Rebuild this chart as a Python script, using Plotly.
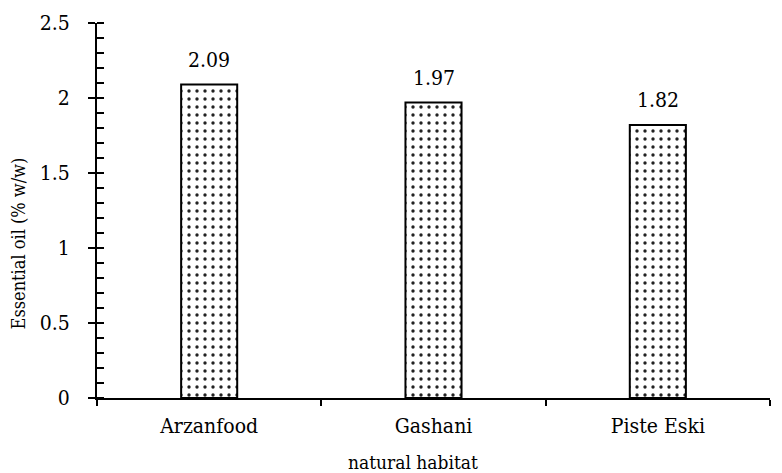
import plotly.graph_objects as go

categories = ["Arzanfood", "Gashani", "Piste Eski"]
values = [2.09, 1.97, 1.82]
labels = ["2.09", "1.97", "1.82"]
y_ticks = [0, 0.5, 1, 1.5, 2, 2.5]
y_ticklabels = ["0", "0.5", "1", "1.5", "2", "2.5"]
x_title = "natural habitat"
y_title = "Essential oil (% w/w)"

FONT = "'DejaVu Serif Condensed', 'DejaVu Serif', serif"

fig = go.Figure()
fig.add_trace(go.Bar(
    x=categories, y=values,
    marker=dict(color="white", line=dict(color="black", width=2),
                pattern=dict(shape=".", fgcolor="#222222", bgcolor="white",
                             size=8, solidity=0.14)),
    yaxis="y",
))
# invisible trace for inside major ticks
fig.add_trace(go.Scatter(x=categories, y=values, mode="none", yaxis="y2",
                         showlegend=False, hoverinfo="skip"))

for c, v, t in zip(categories, values, labels):
    fig.add_annotation(x=c, y=v, text=t, showarrow=False, yanchor="bottom",
                       yshift=11, font=dict(family=FONT, size=21, color="black"))

# axis titles (placed off-centre like the reference)
fig.add_annotation(xref="paper", yref="paper", x=0.47, y=-0.171, text=x_title,
                   showarrow=False, xanchor="center", yanchor="middle",
                   font=dict(family=FONT, size=19, color="black"))
fig.add_annotation(xref="paper", yref="paper", x=-0.117, y=0.413, text=y_title,
                   showarrow=False, xanchor="center", yanchor="middle", textangle=-90,
                   font=dict(family=FONT, size=18, color="black"))

fig.update_layout(
    template="none",
    width=774, height=465,
    margin=dict(l=89, r=12, t=15, b=75),
    plot_bgcolor="white", paper_bgcolor="white",
    showlegend=False, bargap=0.75,
    font=dict(family=FONT, color="black"),
    xaxis=dict(
        automargin=False,
        showline=True, linecolor="black", linewidth=2,
        ticks="outside", tickson="boundaries", ticklen=6, tickwidth=2, tickcolor="black",
        tickfont=dict(family=FONT, size=21, color="black"),
        ticklabelstandoff=8,
        showgrid=False, zeroline=False,
    ),
    yaxis=dict(
        automargin=False,
        range=[0, 2.5], showline=True, linecolor="black", linewidth=2,
        tickvals=y_ticks, ticktext=y_ticklabels,
        ticks="outside", ticklen=7, tickwidth=2, tickcolor="black",
        tickfont=dict(family=FONT, size=21, color="black"),
        ticklabelstandoff=14,
        minor=dict(dtick=0.1, ticks="inside", ticklen=7, tickwidth=2, tickcolor="black", showgrid=False),
        showgrid=False, zeroline=False,
    ),
    yaxis2=dict(
        automargin=False,
        range=[0, 2.5], overlaying="y", side="left",
        tickvals=y_ticks, showticklabels=False,
        ticks="inside", ticklen=7, tickwidth=2, tickcolor="black",
        showgrid=False, zeroline=False, showline=False,
    ),
)

fig.write_html("out.html")
